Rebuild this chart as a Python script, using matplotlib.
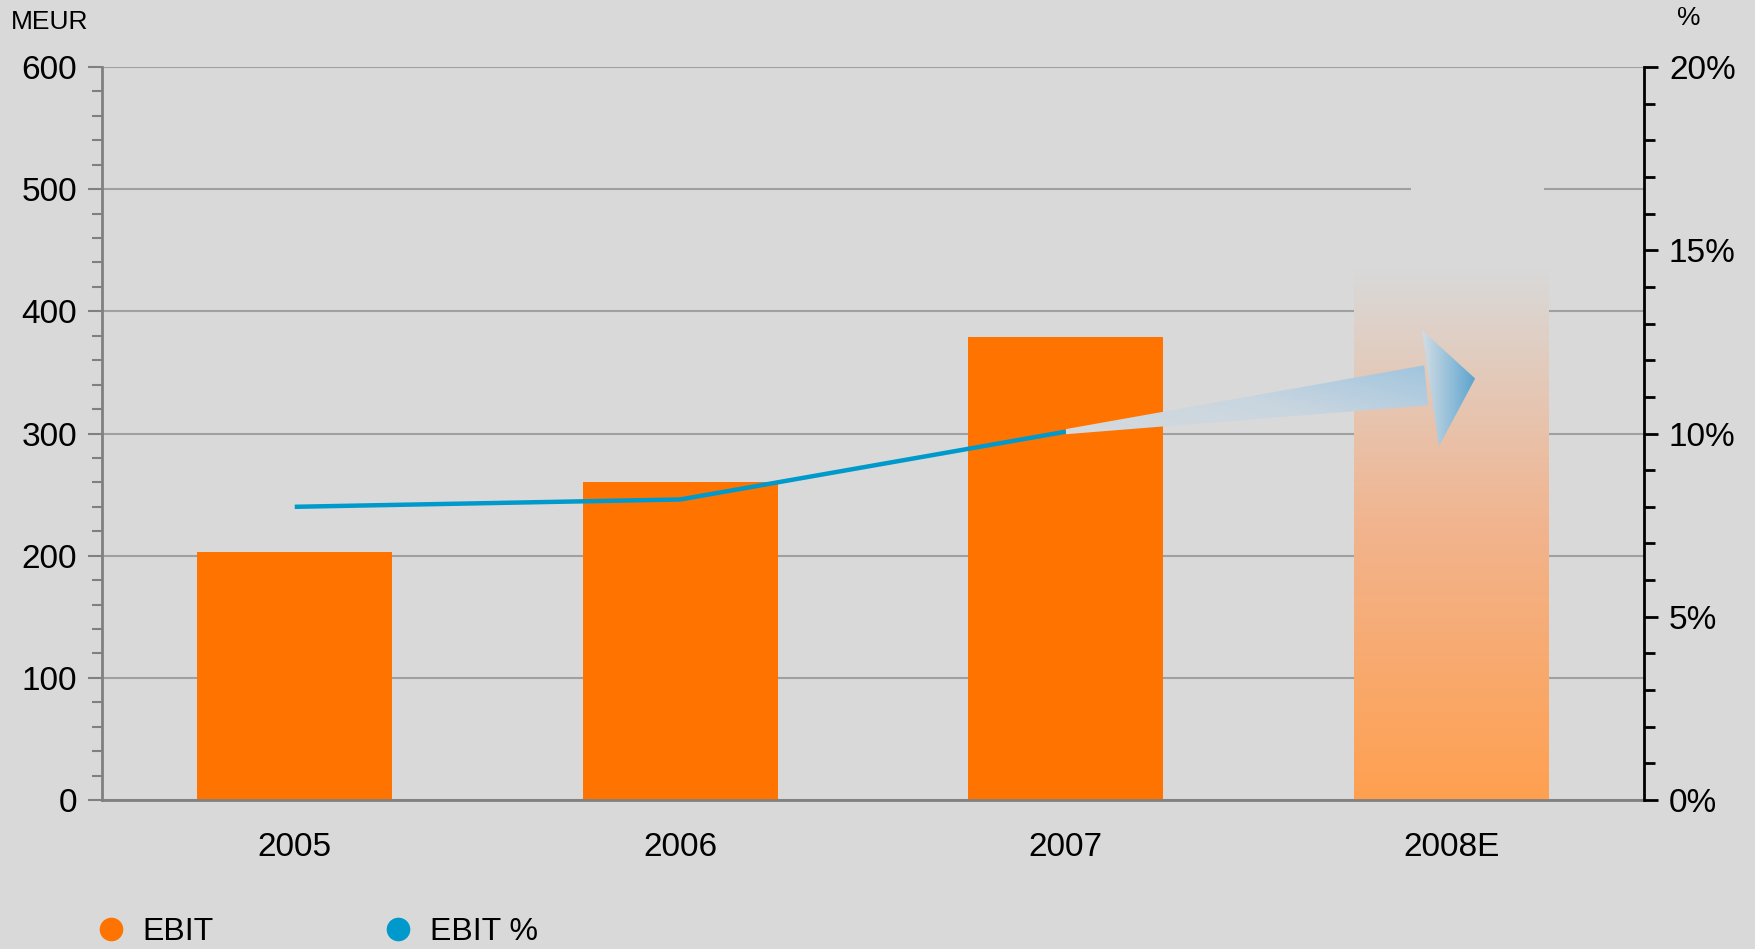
#!usr/bin/env python3

'''
EBIT bar chart with EBIT % line on a second axis, 2008E shown as a faded bar
with a gradient arrow pointing up
'''

import numpy as np
import matplotlib
matplotlib.use('Agg')
import matplotlib.pyplot as plt
from matplotlib.colors import LinearSegmentedColormap
from matplotlib.patches import Polygon, Rectangle
from matplotlib.lines import Line2D
from matplotlib.ticker import MultipleLocator, FuncFormatter

YEARS = ['2005', '2006', '2007', '2008E']
EBIT = [203, 260, 379]           # MEUR, actuals
EBIT_2008E = 435                 # faded estimate bar
EBIT_PCT = [8.0, 8.2, 10.05]     # % for 2005-2007
ARROW_TARGET_PCT = 11.5          # where the arrow points for 2008E

BG = '#d9d9d9'
ORANGE = '#ff7300'
BLUE = '#0099cc'
GRID = '#a0a0a0'

plt.rcParams['font.family'] = ['Liberation Sans', 'DejaVu Sans']

fig = plt.figure(figsize=(17.56, 9.49), dpi=100, facecolor=BG)
ax = fig.add_axes([102 / 1756, 1 - 800 / 949, 1542 / 1756, 733 / 949])
ax.set_facecolor(BG)
ax2 = ax.twinx()

x = np.arange(len(YEARS))
bar_w = 0.505

# actual bars
ax.bar(x[:3], EBIT, width=bar_w, color=ORANGE, zorder=2)

# faded estimate bar
fade = LinearSegmentedColormap.from_list('fade', ['#ffa050', '#f2b38c', BG])
grad = np.linspace(0, 1, 256).reshape(-1, 1)
ax.imshow(grad, extent=[x[3] - bar_w / 2, x[3] + bar_w / 2, 0, EBIT_2008E],
          origin='lower', aspect='auto', cmap=fade, zorder=2)
# background patch hiding the 500 gridline above the estimate
ax.add_patch(Rectangle((2.896, EBIT_2008E), 0.345, 80, facecolor=BG,
                       edgecolor='none', zorder=1.5))

ax.set_ylim(0, 600)
ax.set_xlim(-0.5, 3.5)
ax.yaxis.set_major_locator(MultipleLocator(100))
ax.yaxis.set_minor_locator(MultipleLocator(20))
ax.grid(axis='y', which='major', color=GRID, linewidth=1.5, zorder=1)
ax.set_axisbelow(True)
ax.set_xticks(x)
ax.set_xticklabels(YEARS)
ax.tick_params(axis='x', length=0, pad=23, labelsize=24)
ax.tick_params(axis='y', which='major', length=10, width=1.5, color='#808080',
               pad=8, labelsize=24)
ax.tick_params(axis='y', which='minor', length=7, width=1.5, color='#808080')
for side in ['top', 'right']:
    ax.spines[side].set_visible(False)
ax.spines['left'].set_color('#808080')
ax.spines['left'].set_linewidth(2)
ax.spines['bottom'].set_color('#808080')
ax.spines['bottom'].set_linewidth(2)

# EBIT % line
ax2.plot(x[:3], EBIT_PCT, color=BLUE, linewidth=3.2, zorder=4,
         solid_capstyle='butt')

# gradient arrow from the 2007 value to the 2008E estimate
shaft = Polygon([(2.0, EBIT_PCT[2] + 0.07), (2.93, 11.86), (2.94, 10.77),
                 (2.0, EBIT_PCT[2] - 0.07)], closed=True, facecolor='none',
                edgecolor='none', transform=ax2.transData)
head = Polygon([(2.924, 12.82), (3.062, ARROW_TARGET_PCT), (2.968, 9.65)],
               closed=True, facecolor='none', edgecolor='none',
               transform=ax2.transData)
ax2.add_patch(shaft)
ax2.add_patch(head)
hgrad = np.linspace(0, 1, 256).reshape(1, -1)
vgrad = np.linspace(0, 1, 64).reshape(-1, 1)
# shaft: light on top, bluer along the bottom edge, stronger toward the head
shaft_img = 0.55 * hgrad + 0.45 * (1 - vgrad)
shaft_cmap = LinearSegmentedColormap.from_list(
    'shaft', ['#d6dadd', '#c9d6e0', '#9fc4de'])
head_cmap = LinearSegmentedColormap.from_list('head', ['#d2dde4', '#5aa3cf'])
im1 = ax2.imshow(shaft_img, extent=[2.0, 2.95, 9.9, 11.9], aspect='auto',
                 cmap=shaft_cmap, origin='upper', zorder=3)
im1.set_clip_path(shaft)
im2 = ax2.imshow(hgrad, extent=[2.924, 3.062, 9.6, 12.9], aspect='auto',
                 cmap=head_cmap, zorder=3)
im2.set_clip_path(head)

ax2.set_ylim(0, 20)
ax2.set_xlim(-0.5, 3.5)
ax2.yaxis.set_major_locator(MultipleLocator(5))
ax2.yaxis.set_minor_locator(MultipleLocator(1))
ax2.yaxis.set_major_formatter(FuncFormatter(lambda v, p: f'{v:.0f}%'))
ax2.tick_params(axis='y', which='major', length=10, width=2, color='black',
                pad=8, labelsize=24)
ax2.tick_params(axis='y', which='minor', length=8, width=2, color='black')
for side in ['top', 'left', 'bottom']:
    ax2.spines[side].set_visible(False)
ax2.spines['right'].set_color('black')
ax2.spines['right'].set_linewidth(2)

# unit labels
fig.text(11 / 1756, 1 - 22 / 949, 'MEUR', fontsize=19, ha='left', va='center')
fig.text(1689 / 1756, 1 - 18 / 949, '%', fontsize=19, ha='center',
         va='center')

# legend
handles = [Line2D([], [], marker='o', linestyle='', color=ORANGE,
                  markersize=16),
           Line2D([], [], marker='o', linestyle='', color=BLUE,
                  markersize=16)]
fig.legend(handles, ['EBIT', 'EBIT %'], loc='center left', ncol=2,
           bbox_to_anchor=(98 / 1756, 1 - 932 / 949), frameon=False,
           fontsize=23, handlelength=0.8, handletextpad=0.6,
           columnspacing=5.35, borderpad=0, borderaxespad=0)

plt.savefig('out.png', dpi=100, facecolor=BG)
